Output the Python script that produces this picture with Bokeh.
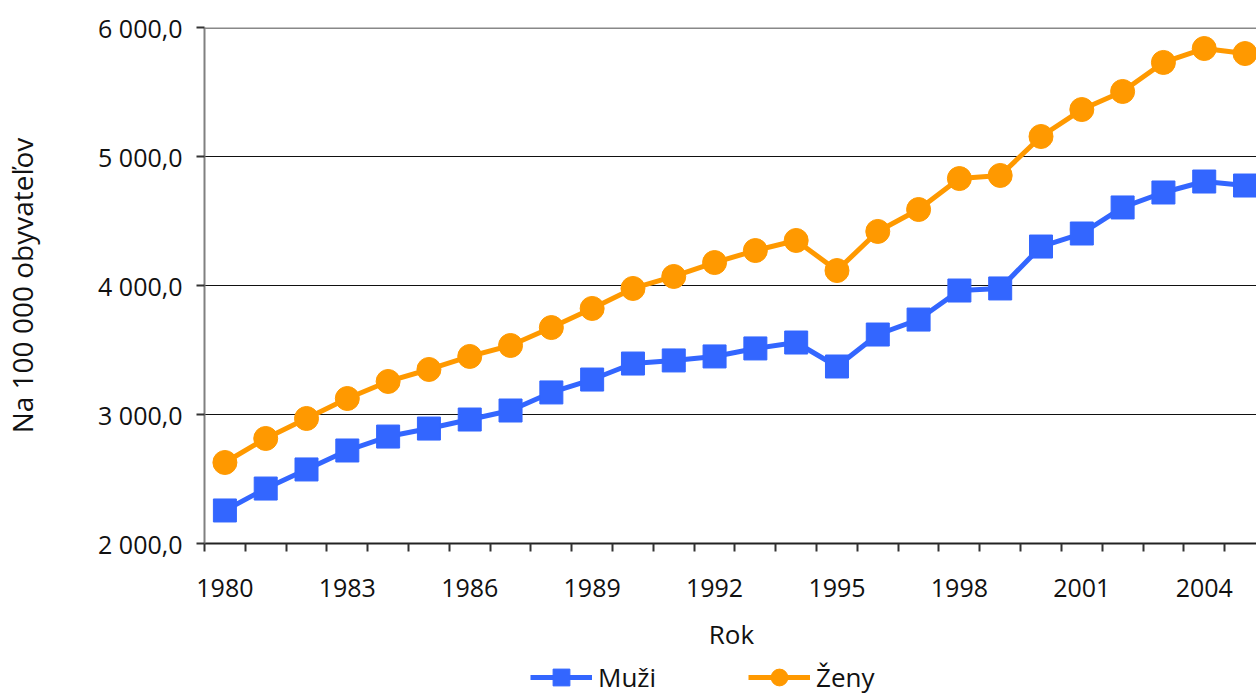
from bokeh.plotting import figure
from bokeh.layouts import column
from bokeh.models import FixedTicker, Span, Legend, LegendItem, Range1d
from bokeh.embed import file_html
from bokeh.resources import INLINE

years = list(range(1980, 2006))
muzi = [2256, 2426, 2574, 2721, 2829, 2891, 2961, 3031, 3171, 3271, 3395, 3419, 3450,
        3512, 3558, 3372, 3620, 3736, 3961, 3977, 4302, 4403, 4605, 4721, 4806, 4775]
zeny = [2628, 2814, 2969, 3124, 3256, 3349, 3450, 3535, 3674, 3822, 3977, 4070, 4178,
        4271, 4349, 4116, 4419, 4589, 4829, 4853, 5155, 5364, 5504, 5729, 5837, 5798]
series_names = ["Muži", "Ženy"]
y_ticks = [2000, 3000, 4000, 5000, 6000]
y_labels = {2000: "2 000,0", 3000: "3 000,0", 4000: "4 000,0", 5000: "5 000,0", 6000: "6 000,0"}
x_label_years = [1980, 1983, 1986, 1989, 1992, 1995, 1998, 2001, 2004]

FONT = "Open Sans"
blue = "#3366FF"
orange = "#FF9900"

p = figure(frame_width=1054, frame_height=516, output_backend="svg", toolbar_location=None,
           x_range=Range1d(1979.5, 2005.33), y_range=Range1d(2000, 6000),
           min_border_left=202, min_border_right=0, min_border_top=27, min_border_bottom=113)
p.outline_line_color = None
p.background_fill_color = "white"

# x axis: minor ticks at category boundaries, labels every 3 years
p.xaxis.ticker = FixedTicker(ticks=x_label_years, minor_ticks=[y - 0.5 for y in years] + [2005.5])
p.xaxis.major_tick_out = 0
p.xaxis.major_tick_in = 0
p.xaxis.minor_tick_out = 8
p.xaxis.minor_tick_in = 0
p.xaxis.minor_tick_line_color = "#333333"
p.xaxis.minor_tick_line_width = 2
p.xaxis.axis_line_color = "#222222"
p.xaxis.axis_line_width = 2
p.xaxis.major_label_standoff = 27
p.xaxis.major_label_text_font = FONT
p.xaxis.major_label_text_font_size = "25px"
p.xaxis.major_label_text_color = "#111111"
p.xaxis.axis_label = "Rok"
p.xaxis.axis_label_text_font = FONT
p.xaxis.axis_label_text_font_style = "normal"
p.xaxis.axis_label_text_font_size = "26px"
p.xaxis.axis_label_standoff = 16
p.xaxis.axis_label_text_color = "#111111"

p.yaxis.ticker = FixedTicker(ticks=y_ticks, minor_ticks=[])
p.yaxis.major_label_overrides = y_labels
p.yaxis.major_tick_out = 8
p.yaxis.major_tick_in = 0
p.yaxis.major_tick_line_color = "#333333"
p.yaxis.major_tick_line_width = 2
p.yaxis.axis_line_color = "#808080"
p.yaxis.axis_line_width = 2
p.yaxis.major_label_standoff = 14
p.yaxis.major_label_text_font = FONT
p.yaxis.major_label_text_font_size = "25px"
p.yaxis.major_label_text_color = "#111111"
p.yaxis.axis_label = "Na 100 000 obyvateľov"
p.yaxis.axis_label_text_font = FONT
p.yaxis.axis_label_text_font_style = "normal"
p.yaxis.axis_label_text_font_size = "28px"
p.yaxis.axis_label_standoff = 54
p.yaxis.axis_label_text_color = "#111111"

p.xgrid.visible = False
p.ygrid.ticker = FixedTicker(ticks=[3000, 4000, 5000])
p.ygrid.grid_line_color = "#111111"
p.ygrid.grid_line_width = 1

p.add_layout(Span(location=6000, dimension="width", line_color="#888888", line_width=3))

p.line(years, muzi, line_color=blue, line_width=5)
p.scatter(years, muzi, marker="square", size=23, fill_color=blue, line_color=blue)
p.line(years, zeny, line_color=orange, line_width=5)
p.scatter(years, zeny, marker="circle", size=24, fill_color=orange, line_color=orange)

# legend strip below the chart (series drawn out of its visible range, only the legend shows)
q = figure(frame_width=1256, frame_height=42, output_backend="svg", toolbar_location=None,
           x_range=Range1d(0, 1), y_range=Range1d(0, 1),
           min_border_left=0, min_border_right=0, min_border_top=0, min_border_bottom=0)
q.axis.visible = False
q.grid.visible = False
q.outline_line_color = None
ql1 = q.line(years, muzi, line_color=blue, line_width=5)
qs1 = q.scatter(years, muzi, marker="square", size=20, fill_color=blue, line_color=blue)
ql2 = q.line(years, zeny, line_color=orange, line_width=5)
qs2 = q.scatter(years, zeny, marker="circle", size=20, fill_color=orange, line_color=orange)

legend = Legend(items=[LegendItem(label=series_names[0], renderers=[ql1, qs1]),
                       LegendItem(label=series_names[1], renderers=[ql2, qs2])],
                orientation="horizontal", location=(530, 0),
                label_text_font=FONT, label_text_font_size="26px", label_text_color="#111111",
                glyph_width=62, glyph_height=42, label_standoff=6, spacing=92,
                border_line_color=None, background_fill_alpha=0, padding=0, margin=0)
q.add_layout(legend, "center")

open("out.html", "w").write(file_html(column(p, q, spacing=0), INLINE))
